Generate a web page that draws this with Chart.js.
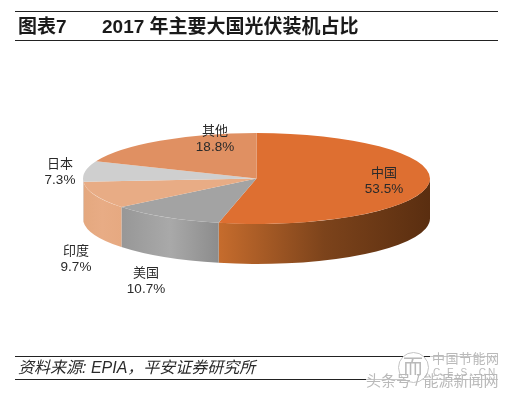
<!DOCTYPE html>
<html>
<head>
<meta charset="utf-8">
<script src="https://cdn.jsdelivr.net/npm/chart.js@4/dist/chart.umd.min.js"></script>
<style>
  html, body { margin: 0; padding: 0; background: #fff; overflow: hidden; }
  #wrap { position: relative; width: 508px; height: 394px; }
  #wrap canvas { position: absolute; left: 0; top: 0; }
  .rule { position: absolute; left: 15px; width: 483px; height: 1px; background: #222; }
  .fade { position: absolute; background: #fff; opacity: 0.75; height: 5px; }
  .txt { position: absolute; white-space: nowrap; font-family: "Liberation Sans", "Noto Sans CJK SC", sans-serif; }
  .head { top: 16px; font-size: 19px; font-weight: bold; color: #1a1a1a; line-height: 22px; }
  .mark { color: #b9b9b9; }
</style>
</head>
<body>
<div id="wrap">
  <canvas id="pie" width="508" height="394"></canvas>
  <div class="rule" style="top:11px"></div>
  <div class="rule" style="top:40px"></div>
  <div class="txt head" style="left:18px">图表7</div>
  <div class="txt head" style="left:102px">2017 年主要大国光伏装机占比</div>
  <div class="rule" style="top:356px"></div>
  <div class="rule" style="top:379px"></div>
  <div class="fade" style="left:430px;top:354px;width:70px"></div>
  <div class="fade" style="left:366px;top:377px;width:134px"></div>
  <div class="txt" style="left:18px;top:358px;font-size:16px;line-height:20px;font-style:italic;color:#2a2a2a">资料来源: EPIA，平安证券研究所</div>
  <div style="position:absolute;left:398px;top:352px;width:29px;height:29px;border:1px solid #c4c4c4;border-radius:50%;background:#fff"></div>
  <div class="txt mark" style="left:403px;top:356px;font-size:20px;line-height:22px">而</div>
  <div class="txt mark" style="left:432px;top:351px;font-size:13px;line-height:16px;letter-spacing:0.5px">中国节能网</div>
  <div class="txt mark" style="left:433px;top:367px;font-size:10px;line-height:12px;letter-spacing:2px">C.E.S..CN</div>
  <div class="txt mark" style="left:366px;top:372px;font-size:15px;line-height:18px">头条号 / 能源新闻网</div>
</div>
<script>
// share of installed PV by country, 2017
const countries = ['中国', '美国', '印度', '日本', '其他'];
const shares = [53.5, 10.7, 9.7, 7.3, 18.8];
const topColors = ['#DE6F31', '#A3A3A3', '#E8AC85', '#CFCFCF', '#E09062'];
const sideColors = [
  ['#C66C2D', '#7C431B', '#5A2E10'],
  ['#979797', '#A9A9A9', '#8C8C8C'],
  ['#E4A87F', '#E8AC85', '#E6A981'],
  ['#C8C8C8', '#C8C8C8', '#C8C8C8'],
  ['#E09062', '#E09062', '#E09062'],
];

// label centres, same order as countries
const labelSpots = [[384, 172], [146, 272], [76, 250], [60, 163], [215, 130]];

const squash = 0.262;
const depth = 40;

function frontAngles(arc) {
  // only the part of a slice on the near side of the ellipse has a wall
  const a0 = Math.max(arc.startAngle, 0);
  const a1 = Math.min(arc.endAngle, Math.PI);
  return a0 < a1 ? [a0, a1] : null;
}

const tiltPlugin = {
  id: 'tilt',
  beforeDatasetsDraw(chart) {
    const ctx = chart.ctx;
    const arcs = chart.getDatasetMeta(0).data;

    // side wall first, so the top face sits on it
    arcs.forEach((arc, i) => {
      const range = frontAngles(arc);
      if (!range) return;
      const rx = arc.outerRadius;
      const ry = rx * squash;
      const x0 = arc.x + rx * Math.cos(range[1]);
      const x1 = arc.x + rx * Math.cos(range[0]);
      const grad = ctx.createLinearGradient(x0, 0, x1, 0);
      grad.addColorStop(0, sideColors[i][0]);
      grad.addColorStop(0.5, sideColors[i][1]);
      grad.addColorStop(1, sideColors[i][2]);
      ctx.beginPath();
      ctx.ellipse(arc.x, arc.y, rx, ry, 0, range[0], range[1]);
      ctx.ellipse(arc.x, arc.y + depth, rx, ry, 0, range[1], range[0], true);
      ctx.closePath();
      ctx.fillStyle = grad;
      ctx.fill();
    });

    // flatten the library's own arcs into an ellipse
    const cy = arcs[0].y;
    ctx.save();
    ctx.translate(0, cy);
    ctx.scale(1, squash);
    ctx.translate(0, -cy);
  },
  afterDatasetsDraw(chart) {
    const ctx = chart.ctx;
    ctx.restore();

    ctx.textAlign = 'center';
    ctx.textBaseline = 'middle';
    ctx.fillStyle = '#2a2a2a';
    countries.forEach((name, i) => {
      const spot = labelSpots[i];
      ctx.font = '13px "Noto Sans CJK SC", "Liberation Sans", sans-serif';
      ctx.fillText(name, spot[0], spot[1]);
      ctx.font = '13.5px "Liberation Sans", sans-serif';
      ctx.fillText(shares[i].toFixed(1) + '%', spot[0], spot[1] + 17);
    });
  },
};

new Chart(document.getElementById('pie').getContext('2d'), {
  type: 'pie',
  data: {
    labels: countries,
    datasets: [
      {
        data: shares,
        backgroundColor: topColors,
        borderWidth: 0,
      },
    ],
  },
  options: {
    responsive: false,
    animation: false,
    layout: {
      padding: { left: 83, right: 78, top: 5, bottom: 42 },
    },
    plugins: {
      legend: { display: false },
      tooltip: { enabled: false },
    },
  },
  plugins: [tiltPlugin],
});
</script>
</body>
</html>
